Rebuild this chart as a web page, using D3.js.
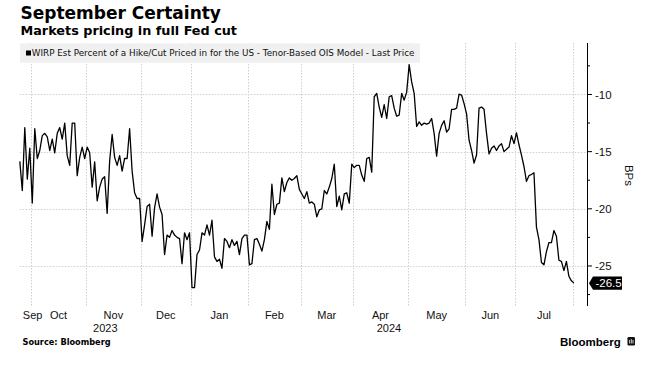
<!DOCTYPE html>
<html><head><meta charset="utf-8">
<script src="https://cdn.jsdelivr.net/npm/d3@7"></script>
<style>
body{margin:0;background:#fff}
svg{display:block}
</style>
</head><body>
<svg id="chart" width="656" height="365"></svg>
<script>
// ---------- data ----------
const titleText = "September Certainty";
const subtitleText = "Markets pricing in full Fed cut";
const legendText = "WIRP Est Percent of a Hike/Cut Priced in for the US - Tenor-Based OIS Model - Last Price";
const sourceText = "Source: Bloomberg";
const axisTitle = "BPs";
const startDate = "2023-09-25";
const endDate = "2024-08-01";
const holidays = ["2023-12-25"];
const monthLabels = ["Sep","Oct","Nov","Dec","Jan","Feb","Mar","Apr","May","Jun","Jul"];
const yearLabels = ["2023","2024"];
const yTicks = [-10,-15,-20,-25];
const yMinorTicks = [-7.5,-12.5,-17.5,-22.5,-27.5];
const yDomain = [-28.5,-5.5];
const values = [
-15.85,-18.4,-12.9,-17.4,-14.7,-19.5,-13.0,-15.6,-14.9,-13.6,
-13.4,-13.7,-14.9,-13.9,-15.1,-13.4,-12.9,-13.9,-12.5,-15.35,
-16.2,-12.5,-12.5,-17.1,-15.5,-14.6,-15.6,-14.6,-15.1,-18.1,
-15.9,-19.3,-18.1,-17.4,-17.2,-20.4,-15.8,-13.5,-15.5,-16.2,
-15.35,-16.7,-15.6,-15.6,-13.0,-16.7,-18.6,-19.1,-19.1,-22.85,
-21.4,-19.8,-19.6,-22.4,-19.9,-18.7,-19.85,-20.5,-24.0,-22.3,
-22.5,-21.9,-22.3,-22.5,-22.6,-24.8,-22.1,-22.7,-22.1,-26.9,
-26.9,-24.0,-23.6,-22.1,-22.3,-21.4,-22.3,-21.0,-24.2,-24.6,
-24.4,-25.2,-22.6,-22.85,-23.4,-22.7,-23.2,-22.85,-24.0,-22.6,
-22.3,-22.3,-24.9,-24.8,-22.7,-22.6,-23.1,-23.7,-22.7,-21.1,
-21.8,-17.85,-20.5,-19.6,-19.5,-17.3,-18.5,-17.7,-17.3,-17.5,
-17.35,-17.1,-18.3,-18.7,-19.1,-18.5,-19.5,-19.4,-19.6,-20.7,
-20.1,-20.0,-18.4,-18.7,-18.1,-17.35,-16.1,-19.8,-18.9,-20.1,
-18.7,-18.6,-19.5,-16.1,-16.4,-16.2,-16.2,-17.05,-17.6,-15.6,
-15.5,-16.8,-10.2,-9.9,-11.1,-12.0,-10.9,-12.1,-10.2,-10.1,
-11.2,-11.9,-11.8,-9.9,-10.5,-9.8,-7.4,-8.9,-9.9,-12.8,
-12.4,-12.7,-12.5,-12.6,-12.5,-12.1,-13.4,-15.4,-13.4,-12.7,
-12.3,-13.3,-13.0,-11.3,-11.3,-11.2,-9.97,-10.05,-10.8,-11.7,
-14.0,-14.9,-16.0,-15.3,-11.2,-11.1,-11.3,-13.4,-15.2,-14.7,
-14.5,-14.9,-14.5,-14.3,-15.0,-14.8,-14.6,-13.6,-14.3,-13.35,
-14.4,-15.3,-16.3,-17.6,-17.1,-17.0,-16.85,-21.6,-22.7,-24.7,
-24.9,-23.75,-22.95,-22.95,-21.9,-22.4,-24.5,-24.6,-25.4,-24.6,
-25.9,-26.3,-26.5
];

// ---------- dates (weekdays, minus holidays) ----------
const parse = d3.utcParse("%Y-%m-%d");
const fmt = d3.utcFormat("%Y-%m-%d");
const dates = d3.utcDays(parse(startDate), d3.utcDay.offset(parse(endDate),1))
  .filter(d => d.getUTCDay()!==0 && d.getUTCDay()!==6 && !holidays.includes(fmt(d)));

// ---------- layout ----------
const P = {left:19.8, right:587, top:43, bottom:306};
const svg = d3.select("#chart");
const x = d3.scaleLinear().domain([0, values.length - 1 + 5.25]).range([P.left, P.right]);
const y = d3.scaleLinear().domain(yDomain).range([P.bottom, P.top]);

const SANS = "'Liberation Sans', Arial, sans-serif";
const DEJ = "'DejaVu Sans', Verdana, sans-serif";

// month boundaries (index - 0.5)
const monthStarts = [];
dates.forEach((d,i) => {
  if (i>0 && d.getUTCMonth() !== dates[i-1].getUTCMonth()) monthStarts.push({i, d});
});
const boundaries = monthStarts.map(m => x(m.i - 0.5));

// gridlines
const grid = svg.append("g").attr("stroke","#cfcfcf").attr("stroke-width",1).attr("stroke-dasharray","1.5,1.5");
grid.selectAll("line.h").data(yTicks).join("line")
  .attr("x1",P.left).attr("x2",P.right)
  .attr("y1",d=>Math.round(y(d))+0.5).attr("y2",d=>Math.round(y(d))+0.5);
grid.selectAll("line.v").data(boundaries).join("line")
  .attr("x1",d=>Math.round(d)+0.5).attr("x2",d=>Math.round(d)+0.5)
  .attr("y1",P.top).attr("y2",P.bottom);

// legend box
svg.append("rect").attr("x",20).attr("y",43.3).attr("width",400).attr("height",19.4).attr("fill","#f0f0f0");
svg.append("rect").attr("x",26).attr("y",50.5).attr("width",5).attr("height",5).attr("fill","#000");
svg.append("text").attr("x",31.8).attr("y",56).attr("font-family",DEJ).attr("font-size",8.8)
  .attr("fill","#111").text(legendText);

// line
const line = d3.line().x((d,i)=>x(i)).y(d=>y(d));
svg.append("path").datum(values).attr("d",line).attr("fill","none")
  .attr("stroke","#000").attr("stroke-width",1.3).attr("stroke-linejoin","round");

// y axis
const ax = svg.append("g");
ax.append("line").attr("x1",P.right+0.5).attr("x2",P.right+0.5).attr("y1",P.top).attr("y2",P.bottom)
  .attr("stroke","#000").attr("stroke-width",1);
ax.selectAll("line.mj").data(yTicks).join("line")
  .attr("x1",P.right).attr("x2",P.right+5).attr("y1",d=>y(d)).attr("y2",d=>y(d))
  .attr("stroke","#000");
ax.selectAll("line.mn").data(yMinorTicks).join("line")
  .attr("x1",P.right).attr("x2",P.right+3).attr("y1",d=>y(d)).attr("y2",d=>y(d))
  .attr("stroke","#000");
ax.selectAll("text").data(yTicks).join("text")
  .attr("x",P.right+8).attr("y",d=>y(d)).attr("dy","0.36em")
  .attr("font-family",SANS).attr("font-size",11.5).attr("fill","#111")
  .text(d=>String(d));

// last value tag
const last = values[values.length-1];
const ly = y(last);
svg.append("path")
  .attr("d",`M${P.right+2},${ly} L${P.right+6},${ly-6.6} L${P.right+35},${ly-6.6} L${P.right+35},${ly+6.6} L${P.right+6},${ly+6.6} Z`)
  .attr("fill","#000");
svg.append("text").attr("x",P.right+8.5).attr("y",ly).attr("dy","0.36em")
  .attr("font-family",SANS).attr("font-size",11.5).attr("fill","#fff").text(String(last));

// axis title
svg.append("text").attr("transform",`translate(625,175.5) rotate(90)`)
  .attr("text-anchor","middle").attr("font-family",SANS).attr("font-size",11.5).attr("fill","#111")
  .text(axisTitle);

// month labels
const edges = [P.left, ...boundaries, P.right];
const mg = svg.append("g").attr("font-family",SANS).attr("font-size",11).attr("fill","#111");
monthLabels.forEach((lab,k) => {
  const a = edges[k], b = edges[k+1];
  const t = mg.append("text").attr("y",319).attr("text-anchor","middle").text(lab);
  const w = t.node().getComputedTextLength();
  let cx = (a+b)/2;
  if (cx - w/2 < P.left + 3) cx = P.left + 3 + w/2;
  t.attr("x",cx);
});
// year labels: centered on visible portion of each year
const janIdx = monthStarts.find(m => m.d.getUTCMonth()===0).i;
const yearEdges = [P.left, x(janIdx-0.5), P.right];
yearLabels.forEach((lab,k) => {
  mg.append("text").attr("y",332).attr("text-anchor","middle")
    .attr("x",(yearEdges[k]+yearEdges[k+1])/2).text(lab);
});

// titles
svg.append("text").attr("x",20.5).attr("y",19.3).attr("font-family",DEJ).attr("font-weight","bold")
  .attr("font-size",17).attr("fill","#000").text(titleText);
svg.append("text").attr("x",20.5).attr("y",35).attr("font-family",DEJ).attr("font-weight","bold")
  .attr("font-size",12.8).attr("fill","#000").text(subtitleText);

// source + logo
svg.append("text").attr("x",22.5).attr("y",345).attr("font-family",DEJ).attr("font-weight","bold")
  .attr("font-size",8.2).attr("fill","#000").text(sourceText);
svg.append("text").attr("x",560).attr("y",345.5).attr("font-family",SANS).attr("font-weight","bold")
  .attr("font-size",11.5).attr("fill","#000").text("Bloomberg");
const ic = svg.append("g");
ic.append("rect").attr("x",627.5).attr("y",337).attr("width",7.5).attr("height",8.5).attr("rx",1.2).attr("fill","#111");
[629.6,631.3,633].forEach((xx,k)=>{
  ic.append("line").attr("x1",xx).attr("x2",xx).attr("y1",339 + (k===1?0:1)).attr("y2",343.5)
    .attr("stroke","#fff").attr("stroke-width",0.8);
});
</script>
</body></html>
